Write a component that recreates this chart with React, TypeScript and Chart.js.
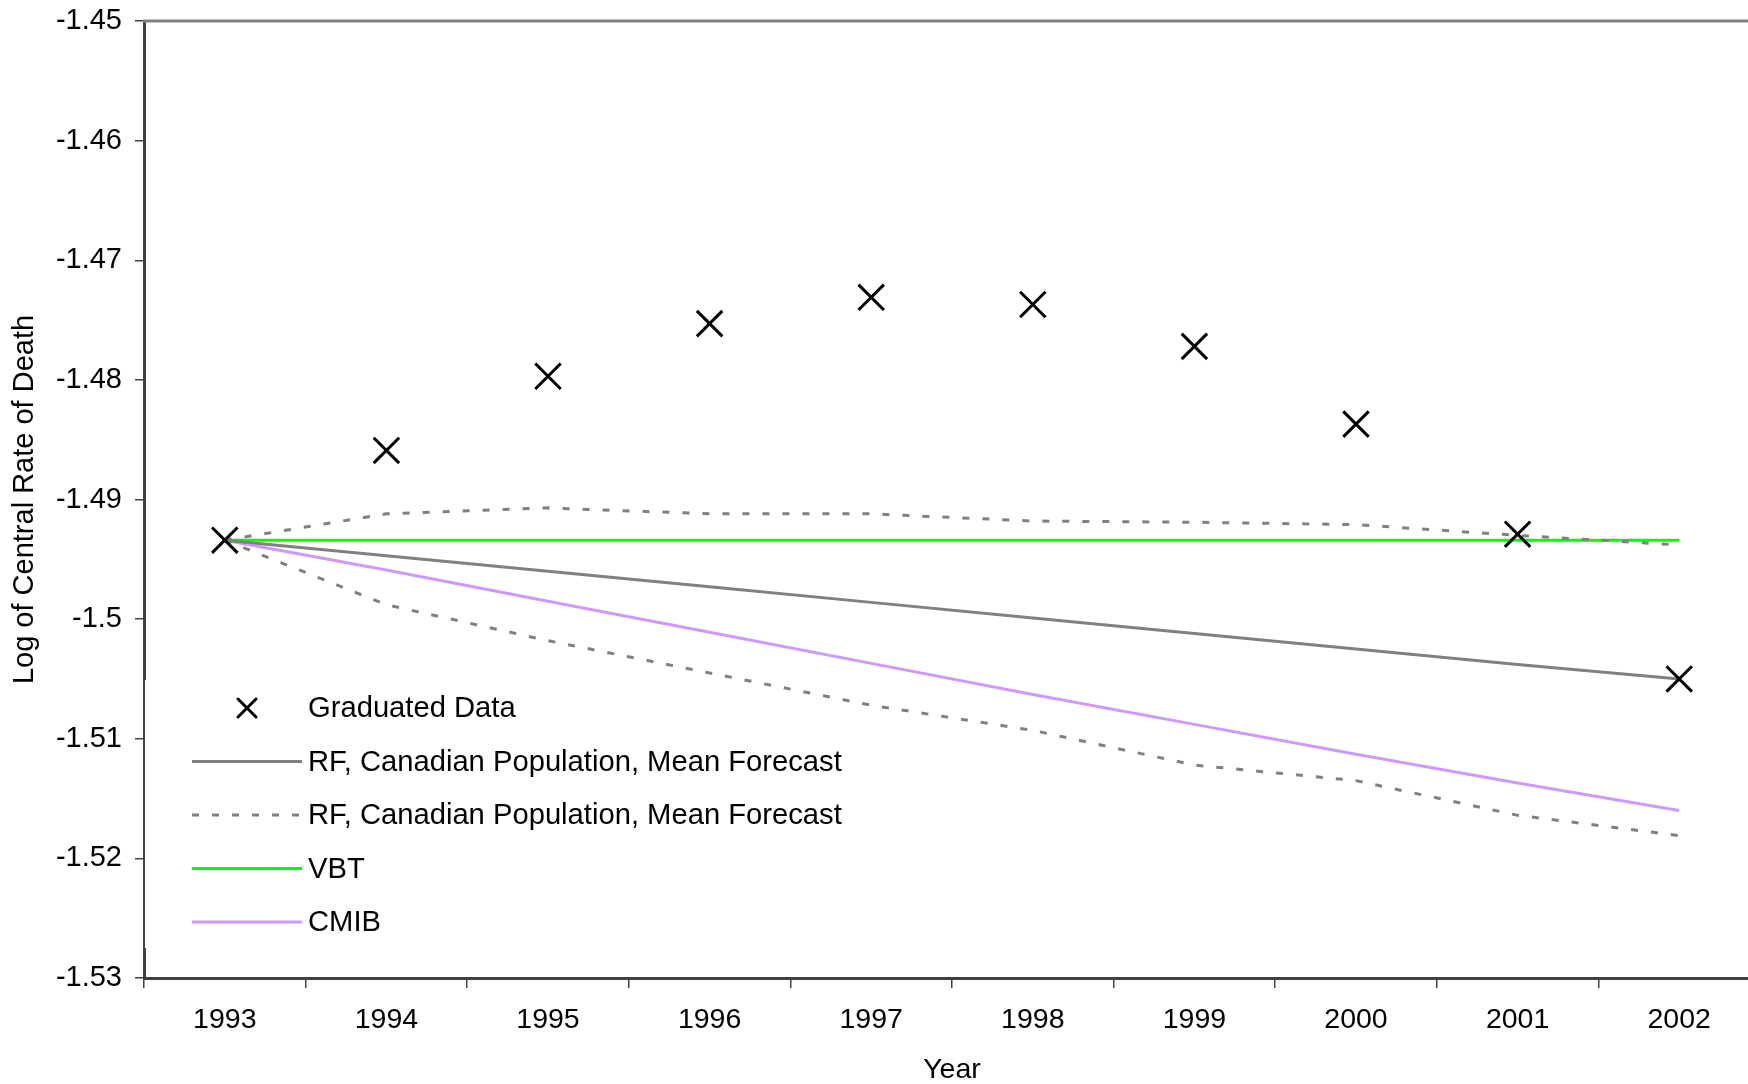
import React, { useEffect, useRef } from "react";
import { Chart, registerables } from "chart.js";

Chart.register(...registerables);

const FONT = "'Liberation Sans', Arial, sans-serif";

const years = ["1993", "1994", "1995", "1996", "1997", "1998", "1999", "2000", "2001", "2002"];

const graduatedData = [-1.4934, -1.4859, -1.4797, -1.4753, -1.4731, -1.4737, -1.4772, -1.4837, -1.4929, -1.5050];
const rfMeanForecast = [-1.4934, -1.4947, -1.4960, -1.4973, -1.4986, -1.4999, -1.5012, -1.5025, -1.5038, -1.5050];
const rfUpperBound = [-1.4934, -1.4912, -1.4907, -1.4912, -1.4912, -1.4918, -1.4919, -1.4921, -1.4930, -1.4938];
const rfLowerBound = [-1.4934, -1.4988, -1.5018, -1.5045, -1.5072, -1.5093, -1.5122, -1.5135, -1.5164, -1.5181];
const vbt = [-1.4934, -1.4934, -1.4934, -1.4934, -1.4934, -1.4934, -1.4934, -1.4934, -1.4934, -1.4934];
const cmib = [-1.4934, -1.4959, -1.4985, -1.5011, -1.5037, -1.5063, -1.5088, -1.5113, -1.5137, -1.5160];

const yMin = -1.53;
const yMax = -1.45;
const yStep = 0.01;

const seriesLabels = [
  "Graduated Data",
  "RF, Canadian Population, Mean Forecast",
  "RF, Canadian Population, Mean Forecast",
  "RF, Canadian Population, Mean Forecast",
  "VBT",
  "CMIB",
];
// which datasets appear in the legend (the two dashed bounds share one entry)
const legendDatasetIndexes = [0, 1, 2, 4, 5];

const GRAY = "#808080";
const GREEN = "#00FF00";
const LAVENDER = "#CC99FF";
const DASH = [7, 13];

const CANVAS_W = 1781;
const CANVAS_H = 1084;

const legendPlugin = {
  id: "insideLegend",
  beforeDatasetsDraw(chart: any) {
    const { ctx, chartArea } = chart;
    ctx.save();
    // legend background (covers part of the axis line like the original)
    ctx.fillStyle = "#ffffff";
    ctx.fillRect(chartArea.left + 1, 680, 720, 268);
    // plot-area top border
    ctx.strokeStyle = GRAY;
    ctx.lineWidth = 3;
    ctx.beginPath();
    ctx.moveTo(chartArea.left - 1, chartArea.top);
    ctx.lineTo(CANVAS_W, chartArea.top);
    ctx.stroke();
    ctx.restore();
  },
  afterDraw(chart: any) {
    const { ctx } = chart;
    const x0 = 192;
    const x1 = 302;
    const textX = 308;
    const y0 = 708;
    const rowH = 53.5;
    ctx.save();
    legendDatasetIndexes.forEach((dsIndex, row) => {
      const ds = chart.data.datasets[dsIndex];
      const y = y0 + row * rowH;
      if (ds.showLine === false) {
        const cx = (x0 + x1) / 2;
        const h = 9;
        ctx.strokeStyle = ds.borderColor;
        ctx.lineWidth = 3;
        ctx.lineCap = "round";
        ctx.setLineDash([]);
        ctx.beginPath();
        ctx.moveTo(cx - h, y - h);
        ctx.lineTo(cx + h, y + h);
        ctx.moveTo(cx + h, y - h);
        ctx.lineTo(cx - h, y + h);
        ctx.stroke();
        ctx.lineCap = "butt";
      } else {
        ctx.strokeStyle = ds.borderColor;
        ctx.lineWidth = ds.borderWidth;
        ctx.setLineDash(ds.borderDash || []);
        ctx.beginPath();
        ctx.moveTo(x0, y);
        ctx.lineTo(x1, y);
        ctx.stroke();
      }
      ctx.setLineDash([]);
      ctx.fillStyle = "#000";
      ctx.font = `29.2px ${FONT}`;
      ctx.textAlign = "left";
      ctx.textBaseline = "middle";
      ctx.fillText(ds.label, textX, y + 1);
    });
    ctx.restore();
  },
};

const zeroPadding = (scale: any) => {
  scale.paddingTop = 0;
  scale.paddingBottom = 0;
  scale.paddingLeft = 0;
  scale.paddingRight = 0;
};

export default function App() {
  const canvasRef = useRef<HTMLCanvasElement>(null);

  useEffect(() => {
    const canvas = canvasRef.current;
    if (!canvas) return;
    const xFont = { family: FONT, size: 28.5 };
    const yFont = { family: FONT, size: 29 };
    const chart = new Chart(canvas, {
      type: "line",
      data: {
        labels: years,
        datasets: [
          {
            label: seriesLabels[0],
            data: graduatedData,
            showLine: false,
            borderColor: "#000000",
            backgroundColor: "#000000",
            pointStyle: "crossRot",
            pointRadius: 18,
            pointBorderWidth: 3,
            pointBorderColor: "#000000",
          },
          {
            label: seriesLabels[1],
            data: rfMeanForecast,
            borderColor: GRAY,
            borderWidth: 3,
            pointRadius: 0,
            tension: 0,
          },
          {
            label: seriesLabels[2],
            data: rfUpperBound,
            borderColor: GRAY,
            borderWidth: 3,
            borderDash: DASH,
            pointRadius: 0,
            tension: 0,
          },
          {
            label: seriesLabels[3],
            data: rfLowerBound,
            borderColor: GRAY,
            borderWidth: 3,
            borderDash: DASH,
            pointRadius: 0,
            tension: 0,
          },
          {
            label: seriesLabels[4],
            data: vbt,
            borderColor: GREEN,
            borderWidth: 3,
            pointRadius: 0,
            tension: 0,
          },
          {
            label: seriesLabels[5],
            data: cmib,
            borderColor: LAVENDER,
            borderWidth: 3,
            pointRadius: 0,
            tension: 0,
          },
        ] as any,
      },
      options: {
        responsive: false,
        animation: false,
        devicePixelRatio: 1,
        layout: { padding: { top: 21, right: 0, left: 0, bottom: 0 } },
        plugins: {
          legend: { display: false },
          tooltip: { enabled: false },
          title: { display: false },
        },
        scales: {
          x: {
            type: "category",
            offset: true,
            grid: {
              offset: true,
              drawOnChartArea: false,
              drawTicks: true,
              tickLength: 10,
              color: "#404040",
              lineWidth: 1.5,
            },
            border: { color: "#404040", width: 3 },
            ticks: {
              font: xFont,
              color: "#000",
              padding: 15,
              maxRotation: 0,
              autoSkip: false,
            },
            title: {
              display: true,
              text: "Year",
              font: { family: FONT, size: 28.5, lineHeight: 1.0 },
              color: "#000",
              padding: { top: 0, bottom: 0 },
            },
            afterFit: (scale: any) => {
              scale.height = 106;
              zeroPadding(scale);
            },
          },
          y: {
            type: "linear",
            min: yMin,
            max: yMax,
            grid: {
              drawOnChartArea: false,
              drawTicks: true,
              tickLength: 9,
              color: "#404040",
              lineWidth: 1.5,
            },
            border: { color: "#404040", width: 3 },
            ticks: {
              stepSize: yStep,
              font: yFont,
              color: "#000",
              padding: 13,
              callback: (v: any) => String(Number(Number(v).toFixed(2))),
            },
            title: {
              display: true,
              text: "Log of Central Rate of Death",
              font: yFont,
              color: "#000",
              padding: { top: 8, bottom: 0 },
            },
            afterFit: (scale: any) => {
              scale.width = 144;
              zeroPadding(scale);
            },
          },
        },
      },
      plugins: [legendPlugin],
    });
    return () => chart.destroy();
  }, []);

  return (
    <div
      style={{
        position: "absolute",
        left: 0,
        top: 0,
        width: 1748,
        height: 1084,
        overflow: "hidden",
        background: "#ffffff",
      }}
    >
      <canvas
        ref={canvasRef}
        width={CANVAS_W}
        height={CANVAS_H}
        style={{ width: CANVAS_W, height: CANVAS_H, display: "block" }}
      />
    </div>
  );
}
